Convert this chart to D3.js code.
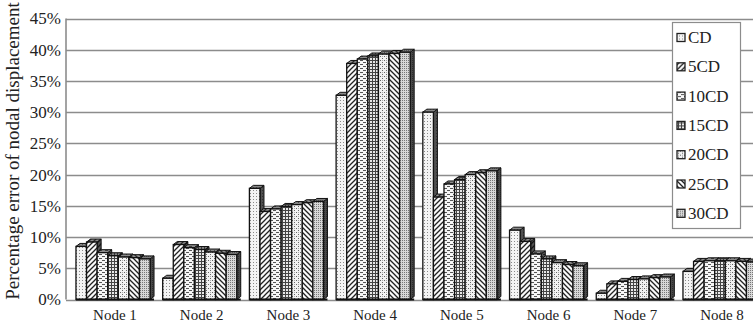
<!DOCTYPE html>
<html>
<head>
<meta charset="utf-8">
<script src="https://cdn.jsdelivr.net/npm/d3@7"></script>
<style>
  html, body { margin: 0; padding: 0; background: #fff; }
  svg { display: block; font-family: "Liberation Serif", "Times New Roman", serif; }
</style>
</head>
<body>
<svg id="chart" width="753" height="325"></svg>
<script>
// Categories and series
const nodes = ["Node 1", "Node 2", "Node 3", "Node 4", "Node 5", "Node 6", "Node 7", "Node 8"];
const seriesNames = ["CD", "5CD", "10CD", "15CD", "20CD", "25CD", "30CD"];

// Percentage error of nodal displacement per node (%)
const cd    = [8.5, 3.4, 17.8, 32.7, 30.0, 11.1, 1.0, 4.5];
const cd5   = [9.2, 8.8, 14.1, 37.8, 16.4, 9.3, 2.5, 6.1];
const cd10  = [7.5, 8.3, 14.5, 38.5, 18.5, 7.3, 2.9, 6.2];
const cd15  = [7.0, 8.0, 14.9, 39.0, 19.2, 6.5, 3.2, 6.2];
const cd20  = [6.8, 7.6, 15.2, 39.3, 20.0, 5.9, 3.3, 6.2];
const cd25  = [6.7, 7.4, 15.5, 39.4, 20.3, 5.6, 3.5, 6.1];
const cd30  = [6.5, 7.2, 15.7, 39.6, 20.6, 5.4, 3.6, 6.0];

const seriesValues = [cd, cd5, cd10, cd15, cd20, cd25, cd30];
const yTicks = [0, 5, 10, 15, 20, 25, 30, 35, 40, 45];

const svg = d3.select("#chart");
const plot = { left: 66, top: 18.5, bottom: 299.5, right: 767 };
const depth = { dx: 4, dy: 3 };

const y = d3.scaleLinear().domain([0, 45]).range([plot.bottom, plot.top]);
const x0 = d3.scaleBand().domain(nodes).range([plot.left, plot.right])
  .paddingInner(0.146).paddingOuter(0.115);
const x1 = d3.scaleBand().domain(seriesNames).range([0, x0.bandwidth()]);

// ---- fill patterns for each series ----
const defs = svg.append("defs");
function pat(id, w, h, draw) {
  const p = defs.append("pattern").attr("id", id).attr("patternUnits", "userSpaceOnUse")
    .attr("width", w).attr("height", h);
  draw(p);
}
// CD: fine stipple
pat("p0", 3, 3, p => {
  p.append("rect").attr("width", 3).attr("height", 3).attr("fill", "#f4f4f4");
  p.append("rect").attr("x", 1).attr("y", 1).attr("width", 1).attr("height", 1).attr("fill", "#8a8a8a");
});
// 5CD: forward diagonal hatch
pat("p1", 5, 5, p => {
  p.append("rect").attr("width", 5).attr("height", 5).attr("fill", "#fafafa");
  p.append("path").attr("d", "M-1,6 L6,-1 M-1,1 L1,-1 M4,6 L6,4").attr("stroke", "#222").attr("stroke-width", 1.3);
});
// 10CD: short horizontal dashes
pat("p2", 6, 4, p => {
  p.append("rect").attr("width", 6).attr("height", 4).attr("fill", "#f6f6f6");
  p.append("rect").attr("x", 0).attr("y", 0).attr("width", 3).attr("height", 1).attr("fill", "#555");
  p.append("rect").attr("x", 3).attr("y", 2).attr("width", 3).attr("height", 1).attr("fill", "#555");
});
// 15CD: small grid
pat("p3", 3, 3, p => {
  p.append("rect").attr("width", 3).attr("height", 3).attr("fill", "#e8e8e8");
  p.append("rect").attr("x", 0).attr("y", 0).attr("width", 3).attr("height", 1).attr("fill", "#444");
  p.append("rect").attr("x", 0).attr("y", 0).attr("width", 1).attr("height", 3).attr("fill", "#444");
});
// 20CD: dotted checker
pat("p4", 4, 4, p => {
  p.append("rect").attr("width", 4).attr("height", 4).attr("fill", "#f2f2f2");
  p.append("rect").attr("x", 0).attr("y", 0).attr("width", 1).attr("height", 1).attr("fill", "#666");
  p.append("rect").attr("x", 2).attr("y", 2).attr("width", 1).attr("height", 1).attr("fill", "#666");
  p.append("rect").attr("x", 2).attr("y", 0).attr("width", 1).attr("height", 1).attr("fill", "#aaa");
});
// 25CD: backward diagonal hatch
pat("p5", 5, 5, p => {
  p.append("rect").attr("width", 5).attr("height", 5).attr("fill", "#fafafa");
  p.append("path").attr("d", "M-1,-1 L6,6 M4,-1 L6,1 M-1,4 L1,6").attr("stroke", "#222").attr("stroke-width", 1.3);
});
// 30CD: dense dots, darker
pat("p6", 2, 2, p => {
  p.append("rect").attr("width", 2).attr("height", 2).attr("fill", "#d8d8d8");
  p.append("rect").attr("x", 0).attr("y", 0).attr("width", 1).attr("height", 1).attr("fill", "#777");
});

// ---- gridlines and frame ----
const gridG = svg.append("g");
gridG.selectAll("line.grid").data(yTicks).join("line")
  .attr("class", "grid")
  .attr("x1", plot.left).attr("x2", 753)
  .attr("y1", d => Math.round(y(d)) + 0.5).attr("y2", d => Math.round(y(d)) + 0.5)
  .attr("stroke", "#8c8c8c").attr("stroke-width", 1.6);
gridG.append("line")
  .attr("x1", plot.left).attr("x2", plot.left)
  .attr("y1", y(45)).attr("y2", y(0))
  .attr("stroke", "#8c8c8c").attr("stroke-width", 1.6);

// ---- y axis labels ----
const yAxis = d3.axisLeft(y).tickValues(yTicks).tickFormat(d => d + "%").tickSize(0).tickPadding(5);
const yG = svg.append("g").attr("transform", `translate(${plot.left},0)`).call(yAxis);
yG.select(".domain").remove();
yG.selectAll("text").attr("font-size", 17).attr("font-family", "Liberation Serif, serif").attr("fill", "#222");

svg.append("text")
  .attr("transform", `translate(19,${(plot.top + plot.bottom) / 2 - 8}) rotate(-90)`)
  .attr("text-anchor", "middle")
  .attr("font-size", 19).attr("fill", "#222")
  .text("Percentage error of nodal displacement");

// ---- x axis labels ----
const xAxis = d3.axisBottom(x0).tickSize(0).tickPadding(10);
const xG = svg.append("g").attr("transform", `translate(2,${plot.bottom})`).call(xAxis);
xG.select(".domain").remove();
xG.selectAll("text").attr("font-size", 15).attr("font-family", "Liberation Serif, serif").attr("fill", "#222");

// ---- 3D bars ----
const barData = [];
nodes.forEach((n, i) => {
  seriesNames.forEach((s, j) => {
    barData.push({ node: n, series: s, si: j, value: seriesValues[j][i] });
  });
});

const barsG = svg.append("g");
const bar = barsG.selectAll("g.bar").data(barData).join("g").attr("class", "bar");

bar.each(function(d) {
  const g = d3.select(this);
  const xl = x0(d.node) + x1(d.series);
  const w = x1.bandwidth();
  const yt = y(d.value);
  const yb = y(0);
  const fill = `url(#p${d.si})`;
  const dx = depth.dx, dy = depth.dy;
  // side face
  const side = `M${xl + w},${yt} L${xl + w + dx},${yt - dy} L${xl + w + dx},${yb - dy} L${xl + w},${yb} Z`;
  g.append("path").attr("d", side).attr("fill", fill);
  g.append("path").attr("d", side).attr("fill", "#111").attr("fill-opacity", 0.72)
    .attr("stroke", "#111").attr("stroke-width", 1).attr("stroke-linejoin", "round");
  // top face
  const top = `M${xl},${yt} L${xl + dx},${yt - dy} L${xl + w + dx},${yt - dy} L${xl + w},${yt} Z`;
  g.append("path").attr("d", top).attr("fill", fill);
  g.append("path").attr("d", top).attr("fill", "#333").attr("fill-opacity", 0.55)
    .attr("stroke", "#111").attr("stroke-width", 1).attr("stroke-linejoin", "round");
  // front face
  g.append("rect").attr("x", xl).attr("y", yt).attr("width", w).attr("height", yb - yt)
    .attr("fill", fill).attr("stroke", "#111").attr("stroke-width", 1.3);
});

// floor edge under each group
barsG.selectAll("line.floor").data(nodes).join("line")
  .attr("class", "floor")
  .attr("x1", d => x0(d)).attr("x2", d => x0(d) + x0.bandwidth() + depth.dx)
  .attr("y1", y(0)).attr("y2", y(0))
  .attr("stroke", "#111").attr("stroke-width", 2);

// ---- legend ----
const legend = svg.append("g");
legend.append("rect")
  .attr("x", 672.5).attr("y", 22.5).attr("width", 68).attr("height", 206)
  .attr("fill", "#fff").attr("stroke", "#8c8c8c").attr("stroke-width", 1.2);
const item = legend.selectAll("g.item").data(seriesNames).join("g")
  .attr("class", "item")
  .attr("transform", (d, i) => `translate(0,${37.5 + i * 29.3})`);
item.append("rect")
  .attr("x", 677).attr("y", -4).attr("width", 8).attr("height", 8)
  .attr("fill", (d, i) => `url(#p${i})`).attr("stroke", "#222").attr("stroke-width", 1.3);
item.append("text")
  .attr("x", 688).attr("y", 5.5)
  .attr("font-size", 17).attr("fill", "#222")
  .text(d => d);
</script>
</body>
</html>
